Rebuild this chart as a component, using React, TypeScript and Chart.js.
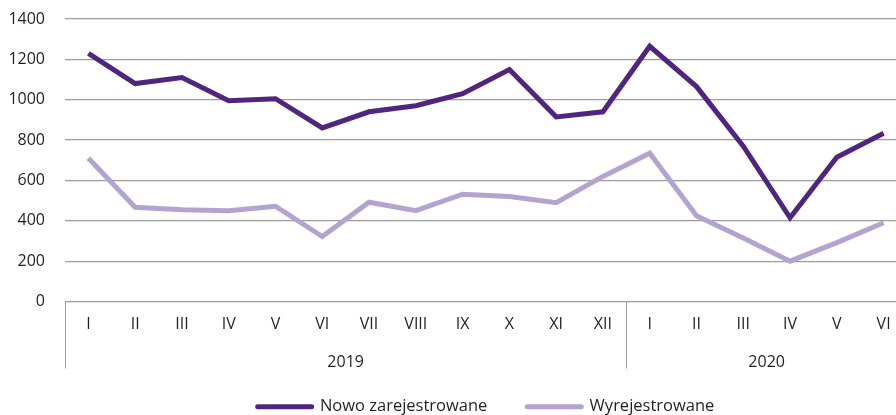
import React, { useEffect, useRef } from 'react';
import { Chart, registerables } from 'chart.js';

Chart.register(...registerables);

// ---- data ----
const monthLabels = ['I', 'II', 'III', 'IV', 'V', 'VI', 'VII', 'VIII', 'IX', 'X', 'XI', 'XII', 'I', 'II', 'III', 'IV', 'V', 'VI'];
const yearLabels = ['2019', '2020'];
const monthsPerYear = [12, 6];
const newlyRegistered = [1230, 1080, 1110, 995, 1005, 860, 940, 970, 1030, 1150, 915, 940, 1265, 1065, 770, 415, 715, 834];
const deregistered = [710, 467, 455, 450, 472, 322, 492, 450, 532, 520, 490, 620, 735, 425, 315, 200, 292, 390];
const seriesNames = ['Nowo zarejestrowane', 'Wyrejestrowane'];
const yMin = 0;
const yMax = 1400;
const yStep = 200;

// ---- style ----
const FONT = '"Open Sans", sans-serif';
const TEXT = '#231f20';
const GRID = '#9d9d9d';
const DARK = '#50257f';
const LIGHT = '#b3a3d0';

// year group centres / boundaries in category-index units
const yearCenters: number[] = [];
const yearBounds: number[] = [];
{
  let start = 0;
  monthsPerYear.forEach((n) => {
    yearCenters.push(start + n / 2 - 0.5);
    yearBounds.push(start);
    start += n;
  });
}

const separatorPlugin = {
  id: 'groupSeparators',
  afterDraw(chart: any) {
    const x = chart.scales.x;
    const ctx = chart.ctx;
    const top = chart.chartArea.bottom;
    const bottom = top + 67;
    ctx.save();
    ctx.strokeStyle = GRID;
    ctx.lineWidth = 1;
    yearBounds.forEach((b) => {
      const px = b === 0 ? x.left : (x.getPixelForValue(b - 1) + x.getPixelForValue(b)) / 2;
      const xx = Math.round(px) + 0.5;
      ctx.beginPath();
      ctx.moveTo(xx, top);
      ctx.lineTo(xx, bottom);
      ctx.stroke();
    });
    ctx.restore();
  },
};

export default function App() {
  const ref = useRef<HTMLCanvasElement>(null);

  useEffect(() => {
    if (!ref.current) return;
    const colors = [DARK, LIGHT];
    const chart = new Chart(ref.current, {
      type: 'line',
      data: {
        labels: monthLabels,
        datasets: [
          {
            label: seriesNames[0],
            data: newlyRegistered,
            borderColor: DARK,
            backgroundColor: DARK,
            borderWidth: 5,
            pointRadius: 0,
            tension: 0,
          },
          {
            label: seriesNames[1],
            data: deregistered,
            borderColor: LIGHT,
            backgroundColor: LIGHT,
            borderWidth: 5,
            pointRadius: 0,
            tension: 0,
          },
        ],
      },
      options: {
        responsive: false,
        animation: false,
        layout: { padding: { top: 19, left: 0, right: 0, bottom: 0 } },
        plugins: {
          tooltip: { enabled: false },
          legend: {
            position: 'bottom',
            fullSize: false,
            labels: {
              font: { family: FONT, size: 16.5 },
              color: TEXT,
              usePointStyle: true,
              pointStyle: 'line',
              pointStyleWidth: 54,
              boxWidth: 54,
              boxHeight: 5,
              padding: 40,
              generateLabels: () =>
                seriesNames.map((name, i) => ({
                  text: name,
                  fillStyle: colors[i],
                  strokeStyle: colors[i],
                  lineWidth: 5,
                  lineCap: 'round',
                  pointStyle: 'line',
                  hidden: false,
                  datasetIndex: i,
                  fontColor: TEXT,
                })),
            },
          },
        },
        scales: {
          x: {
            type: 'category',
            offset: true,
            grid: { display: false, drawTicks: false },
            border: { display: false },
            ticks: {
              font: { family: FONT, size: 16 },
              color: TEXT,
              padding: 13,
              autoSkip: false,
              maxRotation: 0,
            },
            afterFit: (s: any) => {
              s.height = 38;
              s.paddingLeft = 0;
              s.paddingRight = 0;
            },
          },
          x2: {
            type: 'linear',
            position: 'bottom',
            weight: 1,
            min: -0.5,
            max: monthLabels.length - 0.5,
            grid: { display: false, drawTicks: false },
            border: { display: false },
            afterBuildTicks: (axis: any) => {
              axis.ticks = yearCenters.map((v) => ({ value: v }));
            },
            ticks: {
              font: { family: FONT, size: 16 },
              color: TEXT,
              padding: -33,
              mirror: true,
              autoSkip: false,
              maxRotation: 0,
              callback: (_v: any, i: number) => yearLabels[i],
            },
            afterFit: (s: any) => {
              s.height = 19;
              s.paddingLeft = 0;
              s.paddingRight = 0;
            },
          },
          y: {
            min: yMin,
            max: yMax,
            grid: { color: GRID, lineWidth: 1.2, drawTicks: false },
            border: { display: false },
            ticks: {
              stepSize: yStep,
              font: { family: FONT, size: 16 },
              color: TEXT,
              padding: 20,
              callback: (v: any) => String(v),
            },
            afterFit: (s: any) => {
              s.width = 65;
              s.paddingTop = 0;
              s.paddingBottom = 0;
            },
          },
        },
      },
      plugins: [separatorPlugin],
    });
    return () => chart.destroy();
  }, []);

  return (
    <div
      style={{
        position: 'fixed',
        left: 0,
        top: 0,
        width: 896,
        height: 415,
        overflow: 'hidden',
        background: '#fff',
      }}
    >
      <canvas ref={ref} width={907} height={425} style={{ width: 907, height: 425, display: 'block' }} />
    </div>
  );
}
